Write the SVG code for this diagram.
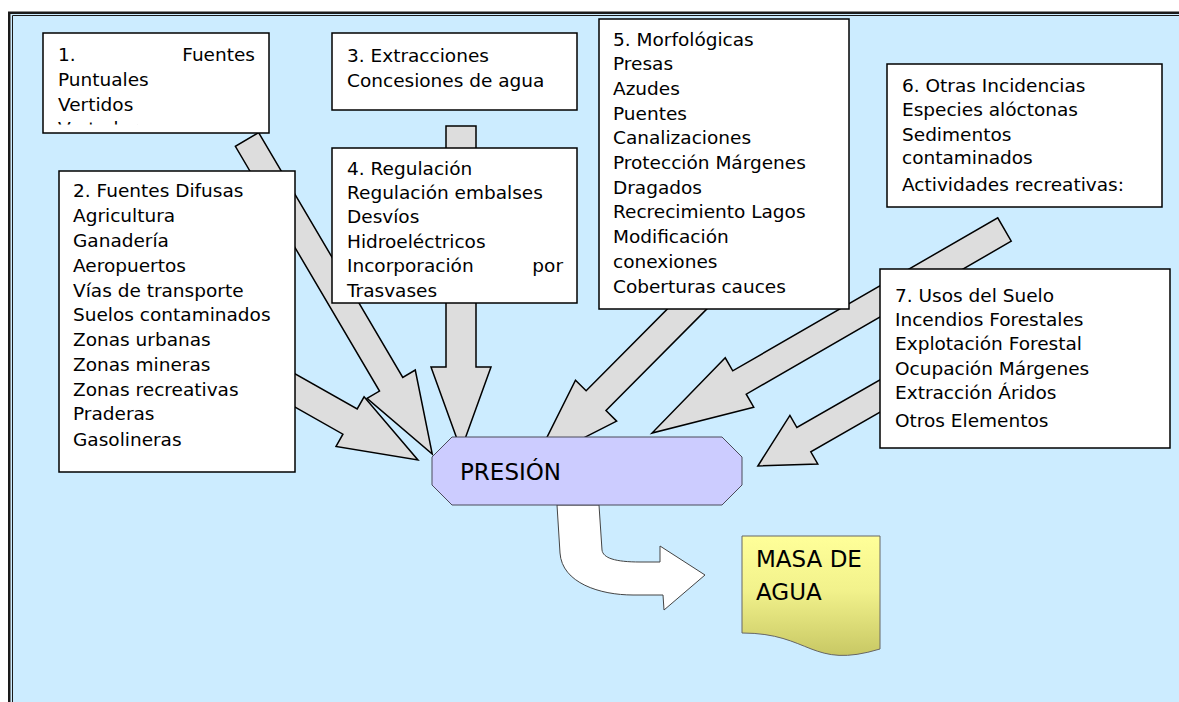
<svg xmlns="http://www.w3.org/2000/svg" width="1179" height="702" viewBox="0 0 1179 702">
<defs>
<style>
.box{fill:#FFFFFF;stroke:#000000;stroke-width:1.5}
.t{font-family:"DejaVu Sans",Verdana,sans-serif;font-size:18.5px;fill:#000000}
.big{font-family:"DejaVu Sans",Verdana,sans-serif;font-size:23px;fill:#000000}
.arr{fill:#DDDDDD;stroke:#000000;stroke-width:1.5;stroke-linejoin:miter}
</style>
<linearGradient id="yel" x1="0" y1="0" x2="0" y2="1">
<stop offset="0" stop-color="#FFFF99"/>
<stop offset="0.45" stop-color="#F2F28C"/>
<stop offset="1" stop-color="#C8C864"/>
</linearGradient>
<clipPath id="c1"><rect x="44" y="34" width="224" height="90.5"/></clipPath>
<clipPath id="c4"><rect x="333" y="149" width="243" height="148"/></clipPath>
</defs>
<rect x="0" y="0" width="1179" height="702" fill="#FFFFFF"/>
<rect x="10.5" y="14" width="1168.5" height="688" fill="#CCECFF"/>
<g id="frame" fill="none" stroke="#1A1A1A">
<path d="M9.25,702 V12.75 H1179" stroke-width="2.5"/>
<path d="M12.5,702 V15.5 H1179" stroke-width="1"/>
</g>
<g id="connectors">
<path class="arr" transform="translate(243,361) rotate(29.5)" d="M0,-14.5 H123 V-28.5 L201,0 L123,28.5 V14.5 H0 Z"/>
<path class="arr" transform="translate(247,139.5) rotate(59.5)" d="M0,-13.5 H284 V-28 L365,0 L284,28 V13.5 H0 Z"/>
<path class="arr" transform="translate(461,126) rotate(90)" d="M0,-15 H241 V-30 L324,0 L241,30 V15 H0 Z"/>
<path class="arr" transform="translate(700,296) rotate(134.8)" d="M0,-14 H147.5 V-29 L235.5,0 L147.5,29 V14 H0 Z"/>
<path class="arr" transform="translate(1004.5,229.5) rotate(150)" d="M0,-13.5 H306 V-28.5 L407,0 L306,28.5 V13.5 H0 Z"/>
<path class="arr" transform="translate(904.5,382) rotate(150.2)" d="M0,-14 H116 V-28 L169,0 L116,28 V14 H0 Z"/>
<path id="flow" d="M557,505 L560,553 C562,583 600,595 633,595 L663,595 L664,610 L705,575 L660,546 L660,562 L640,562 C615,562 603,558 602,550 L599,505 Z" fill="#FFFFFF" stroke="#444444" stroke-width="1"/>
</g>
<g id="box1">
<rect class="box" x="43" y="33" width="226" height="100"/>
<g clip-path="url(#c1)">
<text class="t" x="58" y="61">1.</text>
<text class="t" x="255" y="61" text-anchor="end">Fuentes</text>
<text class="t" x="58" y="86">Puntuales</text>
<text class="t" x="58" y="111">Vertidos</text>
<text class="t" x="58" y="135">Vertederos</text>
</g>
</g>
<g id="box2">
<rect class="box" x="59" y="171" width="236" height="301"/>
<text class="t" x="73" y="197">2. Fuentes Difusas</text>
<text class="t" x="73" y="222">Agricultura</text>
<text class="t" x="73" y="247">Ganadería</text>
<text class="t" x="73" y="272">Aeropuertos</text>
<text class="t" x="73" y="297">Vías de transporte</text>
<text class="t" x="73" y="321">Suelos contaminados</text>
<text class="t" x="73" y="346">Zonas urbanas</text>
<text class="t" x="73" y="371">Zonas mineras</text>
<text class="t" x="73" y="396">Zonas recreativas</text>
<text class="t" x="73" y="420">Praderas</text>
<text class="t" x="73" y="446">Gasolineras</text>
</g>
<g id="box3">
<rect class="box" x="332" y="33" width="245" height="77"/>
<text class="t" x="347" y="62">3. Extracciones</text>
<text class="t" x="347" y="87">Concesiones de agua</text>
</g>
<g id="box4">
<rect class="box" x="332" y="148" width="245" height="155"/>
<g clip-path="url(#c4)">
<text class="t" x="347" y="175">4. Regulación</text>
<text class="t" x="347" y="199">Regulación embalses</text>
<text class="t" x="347" y="223">Desvíos</text>
<text class="t" x="347" y="247.5">Hidroeléctricos</text>
<text class="t" x="347" y="272">Incorporación</text>
<text class="t" x="563" y="272" text-anchor="end">por</text>
<text class="t" x="347" y="296.5">Trasvases</text>
</g>
</g>
<g id="box5">
<rect class="box" x="599" y="19" width="250" height="290"/>
<text class="t" x="613" y="46">5. Morfológicas</text>
<text class="t" x="613" y="70">Presas</text>
<text class="t" x="613" y="95">Azudes</text>
<text class="t" x="613" y="119.5">Puentes</text>
<text class="t" x="613" y="144">Canalizaciones</text>
<text class="t" x="613" y="169">Protección Márgenes</text>
<text class="t" x="613" y="193.5">Dragados</text>
<text class="t" x="613" y="218">Recrecimiento Lagos</text>
<text class="t" x="613" y="243">Modificación</text>
<text class="t" x="613" y="268">conexiones</text>
<text class="t" x="613" y="293">Coberturas cauces</text>
</g>
<g id="box6">
<rect class="box" x="887" y="64" width="275" height="143"/>
<text class="t" x="902" y="92">6. Otras Incidencias</text>
<text class="t" x="902" y="116">Especies alóctonas</text>
<text class="t" x="902" y="141">Sedimentos</text>
<text class="t" x="902" y="164">contaminados</text>
<text class="t" x="902" y="191">Actividades recreativas:</text>
</g>
<g id="box7">
<rect class="box" x="880" y="269" width="290" height="179"/>
<text class="t" x="895" y="302">7. Usos del Suelo</text>
<text class="t" x="895" y="326">Incendios Forestales</text>
<text class="t" x="895" y="350">Explotación Forestal</text>
<text class="t" x="895" y="375">Ocupación Márgenes</text>
<text class="t" x="895" y="399">Extracción Áridos</text>
<text class="t" x="895" y="427">Otros Elementos</text>
</g>
<g id="presion">
<polygon points="452,437 722,437 742,457 742,485 722,505 452,505 432,485 432,457" fill="#CCCCFF" stroke="#4A4A5A" stroke-width="1"/>
<text class="big" x="460" y="480">PRESIÓN</text>
</g>
<g id="masa">
<path d="M742,536 H880 V649 C811,670 811,633 742,633 Z" fill="url(#yel)" stroke="#666666" stroke-width="1"/>
<text class="big" x="756" y="567">MASA DE</text>
<text class="big" x="756" y="600">AGUA</text>
</g>
</svg>
